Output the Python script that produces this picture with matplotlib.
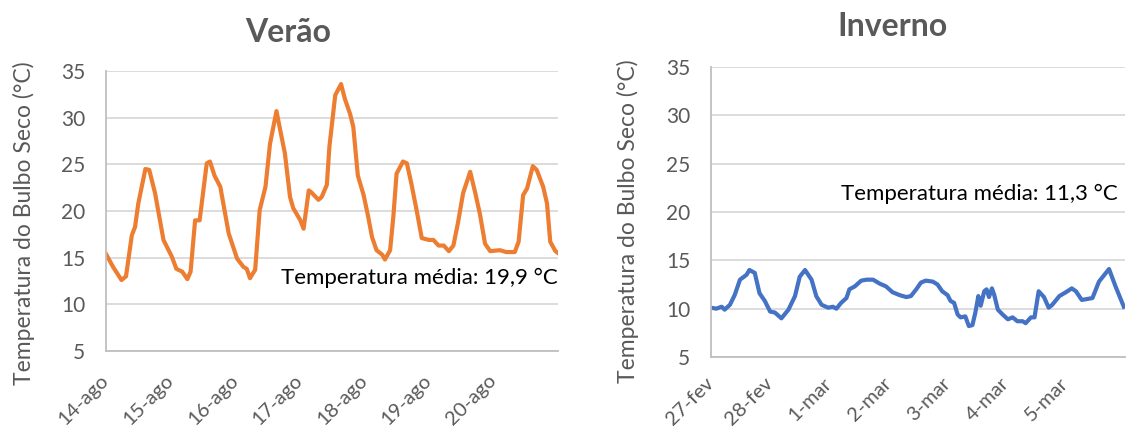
import numpy as np
import matplotlib
matplotlib.use('Agg')
import matplotlib.pyplot as plt

plt.rcParams['font.family'] = ['Lato', 'DejaVu Sans']

# summer week, x in days from 14-ago
verao_dia = [0.00, 0.11, 0.24, 0.31, 0.40, 0.45, 0.50, 0.61, 0.67, 0.76, 0.89, 1.02, 1.09, 1.18,
             1.26, 1.31, 1.38, 1.45, 1.56, 1.61, 1.68, 1.77, 1.90, 2.03, 2.13, 2.18, 2.23, 2.31,
             2.38, 2.47, 2.54, 2.64, 2.72, 2.77, 2.85, 2.90, 3.01, 3.06, 3.14, 3.18, 3.29, 3.34,
             3.42, 3.46, 3.55, 3.64, 3.70, 3.78, 3.83, 3.90, 3.99, 4.06, 4.12, 4.19, 4.28, 4.32,
             4.40, 4.45, 4.50, 4.60, 4.66, 4.73, 4.81, 4.89, 5.00, 5.07, 5.15, 5.23, 5.31, 5.38,
             5.45, 5.53, 5.64, 5.72, 5.79, 5.87, 5.95, 6.10, 6.20, 6.33, 6.39, 6.46, 6.52, 6.61,
             6.67, 6.77, 6.83, 6.88, 6.96, 7.00]
verao_temp = [15.4, 14.0, 12.6, 13.0, 17.4, 18.3, 20.8, 24.5, 24.4, 21.9, 16.9, 15.1, 13.8, 13.5,
              12.7, 13.5, 19.0, 19.0, 25.1, 25.3, 23.8, 22.6, 17.6, 14.9, 14.0, 13.8, 12.8, 13.7,
              20.1, 22.6, 27.2, 30.7, 27.9, 26.2, 21.5, 20.3, 19.0, 18.1, 22.2, 22.0, 21.2, 21.5,
              22.8, 26.9, 32.4, 33.6, 32.0, 30.4, 29.0, 23.8, 21.7, 19.4, 17.2, 15.8, 15.3, 14.8,
              15.8, 19.4, 24.0, 25.3, 25.1, 22.9, 20.1, 17.1, 16.9, 16.9, 16.3, 16.3, 15.7, 16.3,
              18.7, 21.9, 24.2, 21.9, 19.7, 16.5, 15.7, 15.8, 15.6, 15.6, 16.7, 21.7, 22.4, 24.8,
              24.4, 22.6, 20.8, 16.7, 15.7, 15.5]

# winter week, x in days from 27-fev
inverno_dia = [0.00, 0.09, 0.18, 0.23, 0.32, 0.40, 0.49, 0.60, 0.65, 0.74, 0.82, 0.91, 1.00, 1.08,
               1.19, 1.31, 1.42, 1.50, 1.59, 1.70, 1.78, 1.87, 1.98, 2.06, 2.12, 2.20, 2.29, 2.34,
               2.43, 2.54, 2.63, 2.74, 2.85, 2.96, 3.07, 3.19, 3.30, 3.38, 3.47, 3.55, 3.63, 3.75,
               3.83, 3.91, 4.00, 4.05, 4.11, 4.17, 4.22, 4.30, 4.36, 4.42, 4.47, 4.52, 4.56, 4.62,
               4.66, 4.70, 4.75, 4.79, 4.85, 4.93, 5.02, 5.10, 5.18, 5.27, 5.32, 5.41, 5.47, 5.54,
               5.63, 5.71, 5.77, 5.89, 6.00, 6.10, 6.17, 6.27, 6.36, 6.45, 6.56, 6.73, 6.84, 6.98]
inverno_temp = [10.1, 10.0, 10.2, 9.9, 10.4, 11.4, 13.0, 13.5, 14.0, 13.7, 11.6, 10.8, 9.7, 9.6,
                9.0, 9.9, 11.3, 13.3, 14.0, 13.0, 11.3, 10.4, 10.1, 10.2, 10.0, 10.6, 11.1, 12.0,
                12.3, 12.9, 13.0, 13.0, 12.6, 12.3, 11.7, 11.4, 11.2, 11.3, 12.0, 12.7, 12.9, 12.8,
                12.5, 11.8, 11.4, 10.8, 10.6, 9.4, 9.1, 9.2, 8.2, 8.3, 9.6, 11.3, 10.3, 11.8,
                12.0, 11.2, 12.1, 11.4, 9.9, 9.4, 8.9, 9.1, 8.7, 8.7, 8.5, 9.1, 9.1, 11.8,
                11.2, 10.1, 10.4, 11.3, 11.7, 12.1, 11.8, 10.9, 11.0, 11.1, 12.8, 14.1, 12.3, 10.2]

verao_labels = ['14-ago', '15-ago', '16-ago', '17-ago', '18-ago', '19-ago', '20-ago']
inverno_labels = ['27-fev', '28-fev', '1-mar', '2-mar', '3-mar', '4-mar', '5-mar']

cinza = '#595959'
fig = plt.figure(figsize=(11.26, 4.3), dpi=100)
ax1 = fig.add_axes([106/1126, 1-351/430, 452/1126, 280/430])
ax2 = fig.add_axes([711/1126, 1-357/430, 414/1126, 290/430])

def estilo(ax, labels, lab_x, lab_y, xpad):
    ax.set_ylim(5, 35)
    ax.set_yticks(range(5, 40, 5))
    ax.set_xlim(0, 7)
    ax.set_xticks(range(7))
    ax.set_xticklabels(labels, rotation=45, ha='right', va='center',
                       rotation_mode='anchor')
    ax.grid(axis='y', color='#d9d9d9', lw=1.3)
    ax.set_axisbelow(True)
    for s in ['top', 'right']:
        ax.spines[s].set_visible(False)
    for s in ['left', 'bottom']:
        ax.spines[s].set_color('#bfbfbf')
        ax.spines[s].set_linewidth(1.3)
    ax.tick_params(axis='y', length=0, pad=15, labelsize=15, labelcolor=cinza)
    ax.tick_params(axis='x', length=0, pad=xpad, labelsize=14.5, labelcolor=cinza)
    ax.set_ylabel('Temperatura do Bulbo Seco (°C)', fontsize=16.5, color=cinza)
    ax.yaxis.set_label_coords(lab_x, lab_y)

ax1.plot(verao_dia, verao_temp, color='#ed7d31', lw=3, solid_joinstyle='round')
estilo(ax1, verao_labels, -0.158, 0.457, 19)
ax1.text(7.0, 12.8, 'Temperatura média: 19,9 °C', ha='right', va='center', fontsize=16, color='black')

ax2.plot(inverno_dia, inverno_temp, color='#4472c4', lw=3, solid_joinstyle='round')
estilo(ax2, inverno_labels, -0.175, 0.467, 17)
ax2.text(6.88, 21.9, 'Temperatura média: 11,3 °C', ha='right', va='center', fontsize=16, color='black')

fig.text(288/1126, 1-32/430, 'Verão', ha='center', va='center', fontsize=23,
         fontweight='bold', color=cinza)
fig.text(892/1126, 1-27/430, 'Inverno', ha='center', va='center', fontsize=23,
         fontweight='bold', color=cinza)

fig.savefig('out.png', dpi=100)
